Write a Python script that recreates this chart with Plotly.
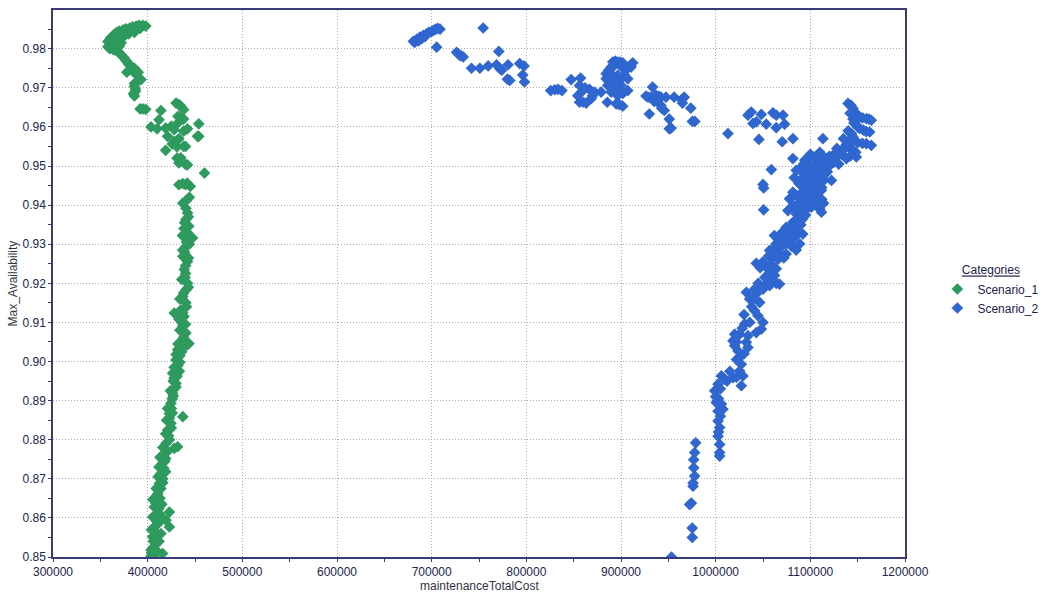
import plotly.graph_objects as go

# ---------------- data ----------------
s1_cost = [
    398000, 395000, 391000, 388000, 384000, 381000, 377000, 374000, 370000, 367000,
    365000, 363000, 361000, 360000, 359000, 360000, 361000, 363000, 365000,
    392000, 386000, 380000, 374000, 369000, 366000, 364000, 367000, 370000, 372000,
    369000, 375000, 380000, 386000, 362000, 358000, 358000, 360000, 364000,
    367000, 370000, 372000, 375000, 377000, 379000, 382000, 384000, 386000, 388000,
    390000, 393000, 389000, 386000, 386000, 387000, 387000, 385000, 386000, 380000, 378000,
    392000, 395000, 398000,
    403500, 410000, 414000, 412000, 419000, 425000, 428000, 430000, 433000, 435000,
    438000, 432000, 435000, 438000, 432000, 438000, 442000, 454000, 454000, 421000,
    428000, 433000, 438000, 426000, 431000, 440000, 452600, 419000, 431000, 433000,
    435000, 440000, 442000, 460000, 433000, 437000, 440000, 445000, 441800,
    437100, 440400, 442100, 440400, 443400, 438400, 447400, 436700, 442000, 440400,
    437100, 442100, 439000, 438600, 440000, 442100, 439500, 440400, 437100, 440400,
    435000, 428100, 438400, 437100, 436000, 440400, 437100, 442100, 437100, 435200,
    443600, 431600, 434000, 429900, 432000, 426300, 433400, 429900, 428000, 426300,
    428000, 437100, 424600, 426000, 422900, 425000, 424600, 423000, 421200, 422000,
    431600, 428000, 419500, 417500, 419000, 415800, 417000, 414100, 416000, 412300,
    414000, 410600, 405300, 409000, 412000, 412300, 422900, 405300, 408000, 419400,
    407000, 422900, 411000, 405300, 410000, 408800, 412000, 403600, 406000, 403600,
    415800, 407000,
    444000, 441000, 443000, 439000, 444000, 441000, 437000, 443000, 440000, 436000,
    443000, 438000, 434000, 441000, 437000, 433000, 440000, 434000, 438000, 432000,
    436000, 430000, 434000, 428000, 431000, 427000, 430000, 424000, 427000, 421000,
    426000, 420000, 425000, 419000, 423000, 416000, 421000, 413000, 418000, 412000,
    419000, 411000, 416000, 409000, 413000, 407000, 415000, 410000, 416000, 404000,
    414000, 406000, 404000, 410000,
]
s1_avail = [
    0.9858, 0.9860, 0.9860, 0.9858, 0.9856, 0.9853, 0.9851, 0.9848, 0.9845, 0.9841,
    0.9837, 0.9832, 0.9828, 0.9823, 0.9820, 0.9815, 0.9811, 0.9806, 0.9803,
    0.9852, 0.9849, 0.9845, 0.9840, 0.9835, 0.9828, 0.9820, 0.9812, 0.9806, 0.9815,
    0.9822, 0.9832, 0.9838, 0.9842, 0.9817, 0.9818, 0.9805, 0.9800, 0.9797,
    0.9795, 0.9790, 0.9784, 0.9777, 0.9770, 0.9764, 0.9756, 0.9743, 0.9750, 0.9734,
    0.9740, 0.9721, 0.9717, 0.9711, 0.9704, 0.9697, 0.9691, 0.9685, 0.9679, 0.9760, 0.9740,
    0.9646, 0.9646, 0.9645,
    0.9600, 0.9595, 0.9642, 0.9618, 0.9597, 0.9602, 0.9593, 0.9661, 0.9657, 0.9653,
    0.9644, 0.9627, 0.9623, 0.9620, 0.9610, 0.9589, 0.9595, 0.9608, 0.9576, 0.9576,
    0.9563, 0.9570, 0.9550, 0.9556, 0.9549, 0.9550, 0.9576, 0.9540, 0.9520, 0.9508,
    0.9521, 0.9504, 0.9503, 0.9482, 0.9452, 0.9455, 0.9452, 0.9448, 0.9456,
    0.9405, 0.9392, 0.9380, 0.9363, 0.9346, 0.9340, 0.9316, 0.9322, 0.9330, 0.9294,
    0.9269, 0.9256, 0.9280, 0.9235, 0.9245, 0.9200, 0.9215, 0.9183, 0.9166, 0.9150,
    0.9132, 0.9124, 0.9115, 0.9090, 0.9100, 0.9073, 0.9055, 0.9043, 0.9034, 0.9051,
    0.9046, 0.9030, 0.9015, 0.9004, 0.8990, 0.8970, 0.8975, 0.8944, 0.8958, 0.8919,
    0.8930, 0.8859, 0.8893, 0.8905, 0.8867, 0.8880, 0.8842, 0.8855, 0.8825, 0.8810,
    0.8782, 0.8778, 0.8791, 0.8765, 0.8752, 0.8740, 0.8727, 0.8714, 0.8700, 0.8688,
    0.8675, 0.8662, 0.8647, 0.8637, 0.8624, 0.8611, 0.8615, 0.8602, 0.8605, 0.8594,
    0.8577, 0.8577, 0.8585, 0.8552, 0.8560, 0.8534, 0.8540, 0.8518, 0.8525, 0.8502,
    0.8509, 0.8500,
    0.9420, 0.9412, 0.9370, 0.9355, 0.9300, 0.9305, 0.9285, 0.9265, 0.9225, 0.9210,
    0.9190, 0.9175, 0.9160, 0.9140, 0.9125, 0.9108, 0.9095, 0.9080, 0.9062, 0.9045,
    0.9025, 0.9018, 0.8998, 0.8985, 0.8962, 0.8950, 0.8935, 0.8925, 0.8912, 0.8880,
    0.8868, 0.8850, 0.8830, 0.8815, 0.8800, 0.8780, 0.8770, 0.8755, 0.8745, 0.8730,
    0.8718, 0.8705, 0.8690, 0.8675, 0.8650, 0.8628, 0.8635, 0.8590, 0.8600, 0.8570,
    0.8560, 0.8540, 0.8510, 0.8515,
]

s2_cost = [
    680700, 682000, 684200, 686000, 687700, 689500, 691200, 693000, 694700, 697000,
    700000, 702000, 704200, 706500, 708800, 754400, 705300, 726300, 728000, 729800,
    733300, 731000, 770900, 742100, 750900, 759700, 768500, 772000, 774000, 780700,
    793000, 797600, 782500, 780000, 796200, 798000,
    825700, 830000, 833400, 837600, 847400, 857300, 856200, 859700, 866700, 872000,
    879000, 854400, 856200, 860000, 863200, 868500, 885500, 862000, 870000,
    891300, 894000, 896600, 899000, 901800, 912400, 910000, 889600, 893000, 900000,
    884300, 889600, 896600, 903600, 884300, 888000, 891300, 898300, 907100, 886000,
    893100, 900100, 889600, 895000, 896600, 907100, 902000, 894900, 901800, 898000,
    887000, 905000, 910600,
    933400, 926400, 928500, 931600, 936900, 940000, 942200, 947500, 956200, 966800,
    964000, 935100, 938000, 942200, 945700, 943000, 964900, 973700, 929900, 951000,
    951000, 953000, 975400, 978000,
    1013000, 1034100, 1037600, 1048200, 1060500, 1064000, 1071100, 1039400, 1053400, 1064000,
    1072800, 1042900, 1045700, 1070300, 1081600, 1113300, 1058800, 1050000, 1050700, 1050700,
    1139800, 1143000, 1145100, 1148600, 1150000, 1152000, 1155000, 1159200, 1162000, 1164400,
    1148600, 1146000, 1150000, 1152100, 1156000, 1159000, 1162700, 1143400, 1146900, 1150000,
    1155000, 1159200, 1164400, 1141600, 1138000, 1144000, 1148000, 1134600, 1148600, 1142000,
    1138100, 1133000, 1127500, 1129300, 1124000, 1120000, 1117000, 1113000, 1102900, 1107000,
    1109900, 1094100, 1098000, 1081600, 1090400, 1085100, 1095000, 1102900, 1106000, 1113300,
    1118000, 1096000, 1100000, 1105000, 1109900, 1115000, 1122300, 1092500, 1098000, 1104700,
    1111700, 1100000, 1081600, 1090000, 1097700, 1103000, 1108200, 1078000, 1088700, 1095000,
    1103000, 1109900, 1111700, 1076300, 1085100, 1092000, 1088000, 1081600, 1074500, 1088700,
    1092000, 1085100, 1062000, 1067400, 1074500, 1081600, 1074500, 1063900, 1088700, 1080000,
    1057000, 1067400, 1074500, 1062000, 1060500, 1066000, 1058800, 1042900, 1053400, 1064000,
    1062200, 1058000, 1067400, 1055200, 1049900, 1041100, 1064000, 1057000, 1050000,
    1100000, 1095000, 1105000, 1110000, 1098000, 1102000, 1108000, 1112000, 1106000, 1101000,
    1092000, 1085000, 1090000, 1095000, 1115000, 1125000, 1135000, 1130000, 1120000, 1088000,
    1093000, 1083000,
    1070000, 1078000, 1084000, 1070000, 1078000, 1068000, 1085000, 1072000, 1056000, 1050000,
    1047000, 1060000, 1052000, 1045000, 1060000, 1080000, 1085000, 1098000, 1090000, 1082000,
    1100000, 1093000, 1085000, 1106000, 1112000, 1114000, 1090000, 1093000, 1105000, 1110000,
    1098000, 1100000, 1110000, 1120000, 1125000, 1128000, 1140000, 1135000, 1145000, 1140000,
    1145000, 1142000,
    1043000, 1032400, 1035900, 1046500, 1041200, 1038000, 1044700, 1050000, 1048200, 1042900,
    1030600, 1020100, 1025300, 1034100, 1018300, 1032400, 1020100, 1023600, 1034100, 1025300,
    1027100, 1025300, 1018300, 1028800, 1006000, 1009500, 1002500, 999000, 1027100, 1000700,
    1006000, 1007700, 1002500, 1005000, 1002500, 1004200, 1003000, 1002500, 1004200, 1004200,
    1004200, 1000000, 1003000,
    1040000, 1030000, 1036000, 1028000, 1022000, 1030000, 1022000, 1015000, 1022000, 1012000,
    1005000, 1002000, 1003000,
    978900, 977800, 976800, 976800, 977800, 976100, 976100, 974300, 972500, 975300,
    975300, 953300,
]
s2_avail = [
    0.9819, 0.9816, 0.9824, 0.9820, 0.9830, 0.9826, 0.9834, 0.9831, 0.9838, 0.9842,
    0.9844, 0.9847, 0.9850, 0.9852, 0.9850, 0.9853, 0.9804, 0.9791, 0.9787, 0.9783,
    0.9779, 0.9782, 0.9793, 0.9750, 0.9750, 0.9756, 0.9759, 0.9749, 0.9745, 0.9759,
    0.9762, 0.9756, 0.9719, 0.9722, 0.9733, 0.9715,
    0.9693, 0.9695, 0.9696, 0.9693, 0.9721, 0.9725, 0.9706, 0.9693, 0.9696, 0.9689,
    0.9689, 0.9680, 0.9663, 0.9663, 0.9661, 0.9672, 0.9663, 0.9700, 0.9680,
    0.9766, 0.9768, 0.9766, 0.9766, 0.9764, 0.9764, 0.9758, 0.9753, 0.9757, 0.9755,
    0.9736, 0.9736, 0.9732, 0.9733, 0.9723, 0.9728, 0.9719, 0.9719, 0.9723, 0.9706,
    0.9702, 0.9706, 0.9689, 0.9694, 0.9680, 0.9693, 0.9686, 0.9659, 0.9653, 0.9657,
    0.9745, 0.9745, 0.9753,
    0.9702, 0.9679, 0.9676, 0.9676, 0.9681, 0.9678, 0.9676, 0.9676, 0.9676, 0.9676,
    0.9670, 0.9665, 0.9668, 0.9655, 0.9642, 0.9648, 0.9661, 0.9648, 0.9633, 0.9620,
    0.9595, 0.9597, 0.9614, 0.9614,
    0.9583, 0.9630, 0.9638, 0.9632, 0.9636, 0.9630, 0.9630, 0.9609, 0.9607, 0.9598,
    0.9607, 0.9613, 0.9568, 0.9562, 0.9570, 0.9570, 0.9491, 0.9453, 0.9444, 0.9388,
    0.9660, 0.9655, 0.9647, 0.9634, 0.9628, 0.9625, 0.9623, 0.9621, 0.9620, 0.9617,
    0.9617, 0.9610, 0.9600, 0.9596, 0.9592, 0.9588, 0.9587, 0.9583, 0.9566, 0.9560,
    0.9558, 0.9557, 0.9553, 0.9549, 0.9555, 0.9540, 0.9535, 0.9540, 0.9523, 0.9525,
    0.9519, 0.9530, 0.9523, 0.9536, 0.9510, 0.9515, 0.9519, 0.9525, 0.9523, 0.9518,
    0.9510, 0.9515, 0.9505, 0.9519, 0.9497, 0.9489, 0.9490, 0.9489, 0.9495, 0.9493,
    0.9485, 0.9472, 0.9478, 0.9470, 0.9472, 0.9465, 0.9463, 0.9446, 0.9455, 0.9446,
    0.9438, 0.9435, 0.9433, 0.9430, 0.9420, 0.9425, 0.9412, 0.9416, 0.9403, 0.9405,
    0.9400, 0.9390, 0.9382, 0.9386, 0.9378, 0.9365, 0.9370, 0.9356, 0.9343, 0.9348,
    0.9326, 0.9335, 0.9322, 0.9314, 0.9318, 0.9314, 0.9301, 0.9301, 0.9301, 0.9295,
    0.9284, 0.9279, 0.9275, 0.9290, 0.9267, 0.9262, 0.9249, 0.9251, 0.9241, 0.9237,
    0.9220, 0.9228, 0.9198, 0.9202, 0.9190, 0.9185, 0.9200, 0.9194, 0.9185,
    0.9460, 0.9440, 0.9455, 0.9450, 0.9415, 0.9440, 0.9430, 0.9445, 0.9405, 0.9395,
    0.9390, 0.9360, 0.9350, 0.9375, 0.9505, 0.9530, 0.9545, 0.9505, 0.9500, 0.9455,
    0.9480, 0.9470,
    0.9330, 0.9330, 0.9320, 0.9310, 0.9305, 0.9290, 0.9285, 0.9265, 0.9270, 0.9255,
    0.9240, 0.9230, 0.9215, 0.9200, 0.9210, 0.9345, 0.9390, 0.9395, 0.9410, 0.9400,
    0.9410, 0.9425, 0.9425, 0.9420, 0.9415, 0.9405, 0.9465, 0.9505, 0.9500, 0.9480,
    0.9520, 0.9530, 0.9535, 0.9525, 0.9510, 0.9545, 0.9560, 0.9570, 0.9575, 0.9590,
    0.9620, 0.9635,
    0.9173, 0.9177, 0.9160, 0.9151, 0.9130, 0.9140, 0.9117, 0.9100, 0.9083, 0.9074,
    0.9096, 0.9070, 0.9070, 0.9066, 0.9053, 0.9049, 0.9040, 0.9027, 0.9036, 0.9010,
    0.8993, 0.8976, 0.8959, 0.8963, 0.8963, 0.8955, 0.8942, 0.8925, 0.8938, 0.8895,
    0.8891, 0.8878, 0.8873, 0.8860, 0.8848, 0.8831, 0.8820, 0.8809, 0.8788, 0.8767,
    0.8758, 0.8910, 0.8905,
    0.9160, 0.9120, 0.9100, 0.9085, 0.9050, 0.9020, 0.9005, 0.8975, 0.8960, 0.8950,
    0.8930, 0.8900, 0.8890,
    0.8792, 0.8767, 0.8749, 0.8728, 0.8707, 0.8689, 0.8681, 0.8638, 0.8634, 0.8574,
    0.8550, 0.8500,
]

series_names = ["Scenario_1", "Scenario_2"]
x_ticks = [300000, 400000, 500000, 600000, 700000, 800000, 900000, 1000000, 1100000, 1200000]
y_ticks = [0.85, 0.86, 0.87, 0.88, 0.89, 0.90, 0.91, 0.92, 0.93, 0.94, 0.95, 0.96, 0.97, 0.98]

# ---------------- figure ----------------
GREEN = "#2e9a5e"
BLUE = "#2f66cf"
AXIS_COL = "#3a3a78"
GRID_COL = "#a9a9cc"
TXT = "#23234a"
FONT = "Liberation Sans, Arial, sans-serif"

fig = go.Figure()
fig.add_trace(go.Scatter(
    x=s1_cost, y=s1_avail, mode="markers", name=series_names[0],
    marker=dict(symbol="diamond", size=9, color=GREEN, line=dict(width=0)),
))
fig.add_trace(go.Scatter(
    x=s2_cost, y=s2_avail, mode="markers", name=series_names[1],
    marker=dict(symbol="diamond", size=9, color=BLUE, line=dict(width=0)),
))

fig.update_layout(
    width=1054, height=595,
    margin=dict(l=53, r=146, t=10, b=38),
    paper_bgcolor="white", plot_bgcolor="white",
    font=dict(family=FONT, size=12, color=TXT),
    legend=dict(
        title=dict(text="<u>Categories</u>", side="top center",
                   font=dict(family=FONT, size=12, color=TXT)),
        x=1.038, y=0.545, xanchor="left", yanchor="top",
        font=dict(family=FONT, size=12, color=TXT),
        bgcolor="rgba(0,0,0,0)", itemwidth=30, tracegroupgap=0,
    ),
    showlegend=True,
)

fig.update_xaxes(
    range=[300000, 1200000], tickvals=x_ticks, ticktext=[str(v) for v in x_ticks],
    showgrid=True, gridcolor=GRID_COL, griddash="1px,2px", gridwidth=1,
    showline=True, linecolor=AXIS_COL, linewidth=1.5, mirror=True,
    ticks="outside", ticklen=3, tickcolor=AXIS_COL,
    minor=dict(dtick=50000, ticks="outside", ticklen=3, tickcolor=AXIS_COL, showgrid=False),
    tickfont=dict(family=FONT, size=12, color=TXT),
    zeroline=False, automargin=False,
)
fig.update_yaxes(
    range=[0.85, 0.9899], tickvals=y_ticks, ticktext=[f"{v:.2f}" for v in y_ticks],
    showgrid=True, gridcolor=GRID_COL, griddash="1px,2px", gridwidth=1,
    showline=True, linecolor=AXIS_COL, linewidth=1.5, mirror=True,
    ticks="outside", ticklen=3, tickcolor=AXIS_COL,
    minor=dict(dtick=0.005, tick0=0.85, ticks="outside", ticklen=3, tickcolor=AXIS_COL, showgrid=False),
    tickfont=dict(family=FONT, size=12, color=TXT),
    zeroline=False, automargin=False,
)

fig.add_annotation(text="maintenanceTotalCost", xref="paper", yref="paper",
                   x=0.5, y=0, yshift=-29, xanchor="center", yanchor="middle",
                   showarrow=False, font=dict(family=FONT, size=12, color="#333344"))
fig.add_annotation(text="Max_Availability", xref="paper", yref="paper",
                   x=0, y=0.5, xshift=-41, textangle=-90, xanchor="center", yanchor="middle",
                   showarrow=False, font=dict(family=FONT, size=12, color="#333344"))

fig.write_html("out.html", config={"displayModeBar": False},
               post_script="document.body.style.margin='0';document.body.style.padding='0';")
